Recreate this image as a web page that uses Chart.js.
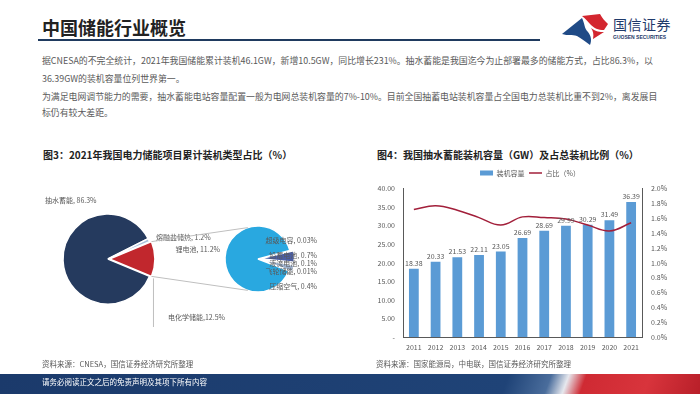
<!DOCTYPE html>
<html>
<head>
<meta charset="utf-8">
<script src="https://cdn.jsdelivr.net/npm/chart.js@4.4.1/dist/chart.umd.min.js"></script>
<style>
  body { margin: 0; background: #fff; font-family: "Noto Sans CJK SC", "Noto Sans", sans-serif; }
  #page { position: relative; width: 700px; height: 394px; overflow: hidden; background: #fff; }
  .t { position: absolute; white-space: nowrap; }
  .para { left: 42px; font-size: 8.9px; line-height: 12px; color: #595959; }
  .ctitle { top: 148px; font-size: 10px; line-height: 14px; font-weight: bold; color: #222; }
  .src { top: 358px; font-size: 7.5px; line-height: 12px; color: #595959; }
  canvas { position: absolute; }
</style>
</head>
<body>
<div id="page">
  <div class="t" style="left:42px;top:16px;font-size:18px;line-height:22px;font-weight:bold;color:#222;">中国储能行业概览</div>
  <div style="position:absolute;left:38px;top:39px;width:502px;height:2px;background:#1f3a5f;"></div>

  <svg style="position:absolute;left:560px;top:12px;" width="52" height="34" viewBox="0 0 52 34">
    <path d="M2 22 L22 6 C25 12 24 16 28 20 C31 24 32 28 30 33 C26 30 22 27 17 24 C12 22 8 24 2 22 Z" fill="#1f4a86"/>
    <path d="M22 4 L40 2 C42 6 45 9 48 12 L44 18 C38 18 34 16 31 13 C28 10 26 7 22 4 Z M31 16 C36 20 40 20 44 20 L33 27 C34 22 33 19 31 16 Z" fill="#d3262f"/>
  </svg>
  <div class="t" style="left:613px;top:15px;font-size:14px;line-height:18px;color:#1f3a6b;letter-spacing:0.5px;">国信证券</div>
  <div class="t" style="left:613px;top:34px;font-size:5px;line-height:7px;font-weight:bold;color:#1f3a6b;font-family:'Liberation Sans',sans-serif;">GUOSEN SECURITIES</div>

  <div class="t para" style="top:55px;">据CNESA的不完全统计，2021年我国储能累计装机46.1GW，新增10.5GW，同比增长231%。抽水蓄能是我国迄今为止部署最多的储能方式，占比86.3%，以</div>
  <div class="t para" style="top:73px;">36.39GW的装机容量位列世界第一。</div>
  <div class="t para" style="top:91px;">为满足电网调节能力的需要，抽水蓄能电站容量配置一般为电网总装机容量的7%-10%。目前全国抽蓄电站装机容量占全国电力总装机比重不到2%，离发展目</div>
  <div class="t para" style="top:107px;">标仍有较大差距。</div>

  <div class="t ctitle" style="left:43px;">图3：2021年我国电力储能项目累计装机类型占比（%）</div>
  <div class="t ctitle" style="left:377px;">图4：我国抽水蓄能装机容量（GW）及占总装机比例（%）</div>

  <canvas id="bigPie" width="350" height="175" style="left:0;top:165px;"></canvas>
  <canvas id="subPie" width="350" height="175" style="left:0;top:165px;"></canvas>
  <canvas id="barChart" width="340" height="192" style="left:360px;top:165px;"></canvas>

  <div class="t src" style="left:42px;">资料来源：CNESA，国信证券经济研究所整理</div>
  <div class="t src" style="left:376px;">资料来源：国家能源局，中电联，国信证券经济研究所整理</div>

  <div style="position:absolute;left:0;top:374px;width:700px;height:20px;background:linear-gradient(110deg,#1b3a6b 0%,#1f4377 72%,#4a6d9c 78%,#e6e8ee 80.5%,#cf2a33 83%,#d8343c 92%,#b81f29 100%);"></div>
  <div class="t" style="left:42px;top:377px;font-size:7.5px;line-height:10px;color:#fff;">请务必阅读正文之后的免责声明及其项下所有内容</div>
</div>

<script>
  // 图3 数据
  var pieLabels = ['抽水蓄能', '熔融盐储热', '电化学储能'];
  var pieValues = [86.3, 1.2, 12.5];
  var subLabels = ['超级电容', '铅蓄电池', '液流电池', '飞轮储能', '压缩空气', '锂电池'];
  var subValues = [0.03, 0.7, 0.1, 0.01, 0.4, 11.2];

  // 图4 数据
  var years = ['2011', '2012', '2013', '2014', '2015', '2016', '2017', '2018', '2019', '2020', '2021'];
  var capacity = [18.38, 20.33, 21.53, 22.11, 23.05, 26.69, 28.69, 29.99, 30.29, 31.49, 36.39];
  var share = [1.72, 1.77, 1.71, 1.61, 1.51, 1.62, 1.61, 1.59, 1.51, 1.43, 1.54];

  Chart.defaults.font.family = '"Noto Sans CJK SC", "Noto Sans", sans-serif';
  Chart.defaults.color = '#595959';

  // label placement relative to each pie centre
  var bigLabelPos = [
    { dx: -63, dy: -59, align: 'left', sep: ', ' },
    { dx: 48, dy: -22, align: 'left', sep: ', ' },
    { dx: 60, dy: 58, align: 'left', sep: ',' }
  ];
  var subLabelPos = [
    { dx: 59, dy: -19, align: 'right', sep: ', ' },
    { dx: 59, dy: -4, align: 'right', sep: ', ' },
    { dx: 59, dy: 4, align: 'right', sep: ', ' },
    { dx: 59, dy: 12, align: 'right', sep: ', ' },
    { dx: 59, dy: 27, align: 'right', sep: ', ' },
    { dx: -38, dy: -10, align: 'right', sep: ', ' }
  ];

  function pieLabelPlugin(pos) {
    return {
      id: 'pieLabels',
      afterDraw: function(chart) {
        var ctx = chart.ctx;
        var arc = chart.getDatasetMeta(0).data[0];
        ctx.save();
        ctx.font = '7px "Noto Sans CJK SC"';
        ctx.fillStyle = '#595959';
        ctx.textBaseline = 'middle';
        chart.data.labels.forEach(function(lab, i) {
          var p = pos[i];
          ctx.textAlign = p.align;
          ctx.fillText(lab + p.sep + chart.data.datasets[0].data[i] + '%', arc.x + p.dx, arc.y + p.dy);
        });
        ctx.restore();
      }
    };
  }

  // outer corner points of an exploded arc
  function arcCorners(a) {
    var off = (a.options.offset || 0) / 4;
    var half = (a.startAngle + a.endAngle) / 2;
    var fix = 1 - Math.sin(Math.min(Math.PI, a.endAngle - a.startAngle));
    var r = a.outerRadius + off * fix;
    var ox = a.x + Math.cos(half) * off, oy = a.y + Math.sin(half) * off;
    return {
      start: { x: ox + r * Math.cos(a.startAngle), y: oy + r * Math.sin(a.startAngle) },
      end: { x: ox + r * Math.cos(a.endAngle), y: oy + r * Math.sin(a.endAngle) }
    };
  }

  var bigChart = new Chart(document.getElementById('bigPie'), {
    type: 'pie',
    data: {
      labels: pieLabels,
      datasets: [{
        data: pieValues,
        backgroundColor: ['#253a5e', '#a9c2dc', '#c1272d'],
        borderColor: '#ffffff',
        borderWidth: 1.5,
        offset: [0, 0, 6],
        radius: 45,
        rotation: 112.5
      }]
    },
    options: {
      responsive: false,
      animation: false,
      devicePixelRatio: 1,
      layout: { padding: { left: 8, right: 142, top: 13, bottom: 0 } },
      plugins: { legend: { display: false }, tooltip: { enabled: false } }
    },
    plugins: [pieLabelPlugin(bigLabelPos)]
  });

  var connectorPlugin = {
    id: 'connectors',
    afterDraw: function(chart) {
      var ctx = chart.ctx;
      var red = bigChart.getDatasetMeta(0).data[2];
      var c = arcCorners(red);
      var s = chart.getDatasetMeta(0).data[5];
      var ang = Math.PI * 0.6;
      ctx.save();
      ctx.strokeStyle = '#bfbfbf';
      ctx.lineWidth = 1;
      ctx.beginPath();
      ctx.moveTo(c.start.x, c.start.y);
      ctx.lineTo(s.x + s.outerRadius * Math.cos(-ang), s.y + s.outerRadius * Math.sin(-ang));
      ctx.moveTo(c.end.x, c.end.y);
      ctx.lineTo(s.x + s.outerRadius * Math.cos(ang), s.y + s.outerRadius * Math.sin(ang));
      // leader for 电化学储能
      ctx.moveTo(c.end.x + 2, c.end.y + 2);
      ctx.lineTo(c.end.x + 2, red.y + 68);
      ctx.stroke();
      ctx.restore();
    }
  };

  new Chart(document.getElementById('subPie'), {
    type: 'pie',
    data: {
      labels: subLabels,
      datasets: [{
        data: subValues,
        backgroundColor: ['#7f7f7f', '#4a5ea5', '#a5422a', '#e3a33b', '#9fb3cf', '#29a8e0'],
        borderColor: '#ffffff',
        borderWidth: 1.5,
        offset: [8, 8, 8, 8, 8, 0],
        radius: 33,
        rotation: 75
      }]
    },
    options: {
      responsive: false,
      animation: false,
      devicePixelRatio: 1,
      layout: { padding: { left: 216, right: 50, top: 14, bottom: 1 } },
      plugins: { legend: { display: false }, tooltip: { enabled: false } }
    },
    plugins: [connectorPlugin, pieLabelPlugin(subLabelPos)]
  });

  var barValuePlugin = {
    id: 'barValues',
    afterDatasetsDraw: function(chart) {
      var ctx = chart.ctx;
      var meta = chart.getDatasetMeta(0);
      ctx.save();
      ctx.font = '7px "Noto Sans CJK SC"';
      ctx.fillStyle = '#595959';
      ctx.textAlign = 'center';
      ctx.textBaseline = 'bottom';
      meta.data.forEach(function(bar, i) {
        ctx.fillText(capacity[i].toFixed(2), bar.x, bar.y - 2);
      });
      ctx.restore();
    }
  };

  new Chart(document.getElementById('barChart'), {
    data: {
      labels: years,
      datasets: [
        {
          type: 'bar',
          label: '装机容量',
          data: capacity,
          yAxisID: 'y',
          backgroundColor: '#5b9bd5',
          barPercentage: 0.45,
          categoryPercentage: 1,
          pointStyle: 'rect',
          order: 2
        },
        {
          type: 'line',
          label: '占比（%）',
          data: share,
          yAxisID: 'y1',
          borderColor: '#a21f3a',
          backgroundColor: '#a21f3a',
          borderWidth: 1.5,
          pointRadius: 0,
          pointStyle: 'line',
          tension: 0.4,
          order: 1
        }
      ]
    },
    options: {
      responsive: false,
      animation: false,
      devicePixelRatio: 1,
      layout: { padding: 0 },
      plugins: {
        legend: {
          position: 'top',
          labels: {
            usePointStyle: true,
            pointStyleWidth: 13,
            boxHeight: 5,
            padding: 4.5,
            font: { size: 7 },
            color: '#595959',
            sort: function(a, b) { return a.datasetIndex - b.datasetIndex; }
          }
        },
        subtitle: { display: true, text: ' ', font: { size: 1 }, padding: { top: 0, bottom: 1 }, weight: 500 },
        tooltip: { enabled: false }
      },
      scales: {
        x: {
          grid: { display: false, drawTicks: false },
          border: { display: true, color: '#595959' },
          ticks: { font: { size: 7 }, padding: 6, color: '#595959' },
          afterFit: function(s) { s.height = 20; }
        },
        y: {
          position: 'left',
          min: 0,
          max: 40,
          grid: { display: false, drawTicks: false },
          border: { display: true, color: '#595959' },
          ticks: {
            stepSize: 5,
            font: { size: 7 },
            padding: 8,
            color: '#595959',
            callback: function(v) { return v === 0 ? '-' : v.toFixed(2); }
          },
          afterFit: function(s) { s.width = 43; }
        },
        y1: {
          position: 'right',
          min: 0,
          max: 2,
          grid: { display: false, drawTicks: false },
          border: { display: true, color: '#595959' },
          ticks: {
            stepSize: 0.2,
            font: { size: 7 },
            padding: 9,
            color: '#595959',
            callback: function(v) { return v.toFixed(1) + '%'; }
          },
          afterFit: function(s) { s.width = 58; }
        }
      }
    },
    plugins: [barValuePlugin]
  });
</script>
</body>
</html>
